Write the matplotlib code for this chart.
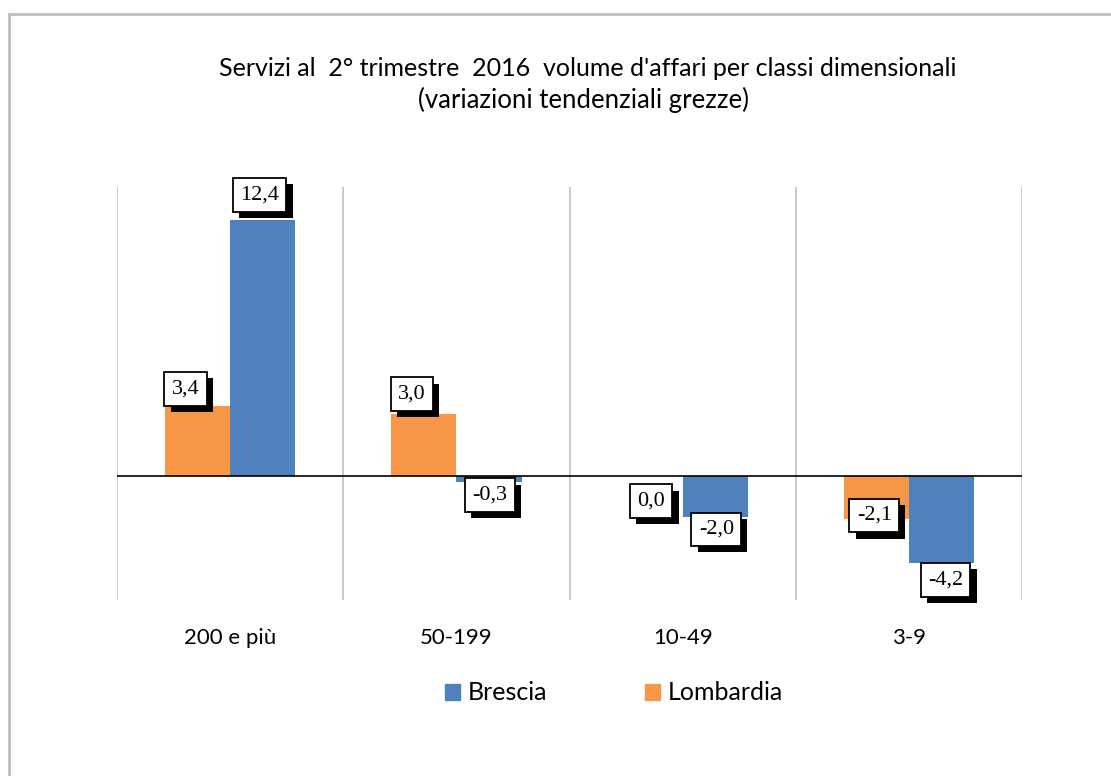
import numpy as np
import matplotlib.pyplot as plt
import matplotlib.patheffects as pe
from matplotlib.lines import Line2D
from matplotlib.patches import Patch

# dati
classi = ["200 e più", "50-199", "10-49", "3-9"]
brescia = [12.4, -0.3, -2.0, -4.2]
lombardia = [3.4, 3.0, 0.0, -2.1]
etichette_b = ["12,4", "-0,3", "-2,0", "-4,2"]
etichette_l = ["3,4", "3,0", "0,0", "-2,1"]

# spostamento delle etichette (pixel) rispetto alla fine della barra
off_b = [(-3, 25), (1, -13), (1, -12), (4, -17)]
off_l = [(-12, 17), (-12, 20), (1, -25), (-2, 4)]

col_b = "#4f81bd"
col_l = "#f79646"

fig = plt.figure(figsize=(11.11, 7.76), dpi=100)
W, H = 1111, 776
ax = fig.add_axes([117 / W, (H - 600) / H, (1022 - 117) / W, (600 - 187) / H])

x = np.arange(len(classi))
w = 0.288
ax.bar(x - w / 2, lombardia, w, color=col_l, zorder=2)
ax.bar(x + w / 2, brescia, w, color=col_b, zorder=2)

ax.set_xlim(-0.5, 3.5)
ax.set_ylim(-6, 14)
for g in np.arange(-0.5, 4, 1):
    ax.axvline(g, color="#c0c0c0", lw=1.2, zorder=1)
ax.axhline(0, color="black", lw=1.2, zorder=3)

for s in ax.spines.values():
    s.set_visible(False)
ax.set_yticks([])
ax.set_xticks(x)
ax.set_xticklabels(classi, fontsize=16, family="Lato")
ax.tick_params(axis="x", length=0, pad=20)


def etichetta(xp, val, txt, off):
    t = ax.annotate(txt, (xp, val), xytext=off, textcoords="offset pixels",
                    ha="center", va="center", fontsize=16,
                    family="Liberation Serif", zorder=5,
                    bbox=dict(boxstyle="square,pad=0.33", fc="white",
                              ec="black", lw=1.3))
    t.get_bbox_patch().set_path_effects([
        pe.SimplePatchShadow(offset=(4.5, -4.5), shadow_rgbFace="black", alpha=1),
        pe.Normal()])


for i in range(len(classi)):
    etichetta(x[i] - w / 2, lombardia[i], etichette_l[i], off_l[i])
    etichetta(x[i] + w / 2, brescia[i], etichette_b[i], off_b[i])

fig.text(588 / W, 1 - 68 / H,
         "Servizi al  2° trimestre  2016  volume d'affari per classi dimensionali",
         ha="center", va="center", fontsize=18, family="Lato")
fig.text(583 / W, 1 - 100 / H, "(variazioni tendenziali grezze)",
         ha="center", va="center", fontsize=18.5, family="Lato")

handles = [Patch(color=col_b), Patch(color=col_l)]
fig.legend(handles, ["Brescia", "Lombardia"], loc="center",
           bbox_to_anchor=(614 / W, 1 - 693 / H), ncol=2, frameon=False,
           prop={"family": "Lato", "size": 18}, handlelength=0.6,
           handleheight=0.6, handletextpad=0.3, columnspacing=3.9)

# cornice
fig.add_artist(Line2D([9 / W, 9 / W], [0, 1 - 14 / H], transform=fig.transFigure,
                      color="#bfbfbf", lw=2))
fig.add_artist(Line2D([9 / W, 1], [1 - 14 / H, 1 - 14 / H], transform=fig.transFigure,
                      color="#bfbfbf", lw=2))

fig.savefig("out.png", dpi=100)
